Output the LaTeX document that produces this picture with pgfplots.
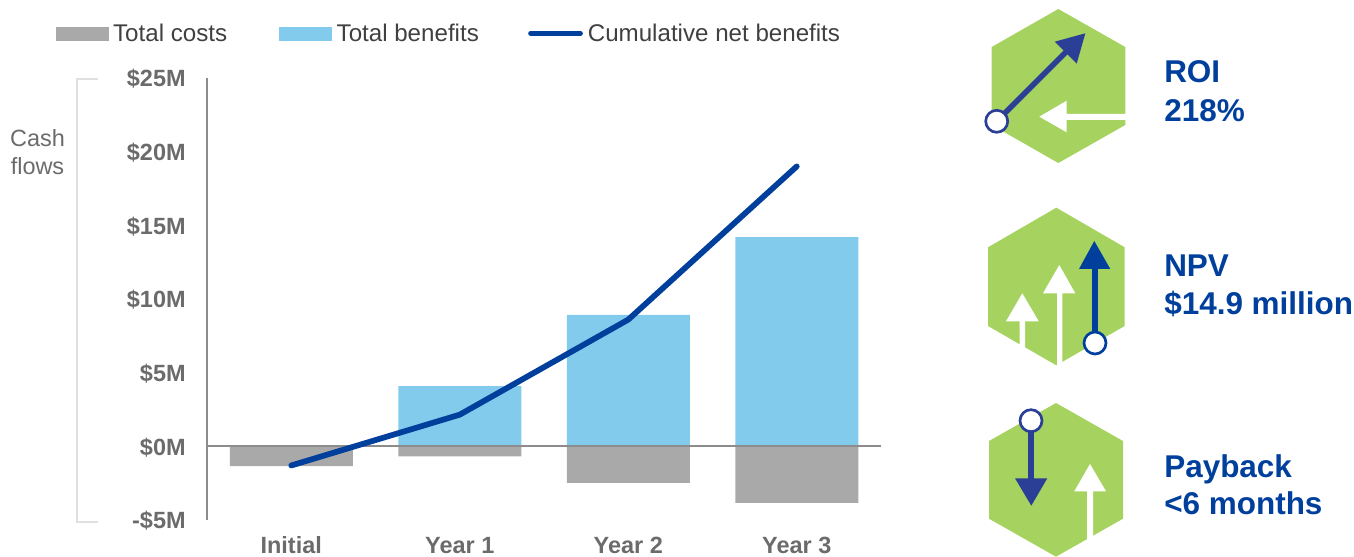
\documentclass[border=0pt]{standalone}
\usepackage{pgfplots}
\pgfplotsset{compat=1.18}
\usepackage{fontspec}
\setmainfont{Liberation Sans}
\definecolor{costs}{HTML}{A9A9A9}
\definecolor{benefits}{HTML}{82CBEC}
\definecolor{netline}{HTML}{003F9C}
\definecolor{hexgreen}{HTML}{A6D360}
\definecolor{arrowblue}{HTML}{2B3F97}
\definecolor{ticktext}{HTML}{6B6B6B}
\definecolor{legendtext}{HTML}{404040}
\definecolor{axisgray}{HTML}{8C8C8C}
\definecolor{brack}{HTML}{E0E0E0}
\newcommand{\lab}{\fontsize{17.6}{21}\selectfont}
\newcommand{\leg}{\fontsize{18.1}{21}\selectfont}
\newcommand{\kpi}{\fontsize{23.6}{28}\selectfont\bfseries}
\pgfplotstableread{
x costs benefits net
0 -1.34 0 -1.3
1 -0.69 4.09 2.15
2 -2.48 8.93 8.6
3 -3.84 14.2 19.0
}\cashdata
\begin{document}
\begin{tikzpicture}
\useasboundingbox (0,0) rectangle (1015.5pt,417.75pt);
\begin{axis}[
  at={(155.25pt,27.75pt)}, anchor=south west,
  scale only axis, width=505.5pt, height=331.5pt,
  xmin=-0.5, xmax=3.5, ymin=-5, ymax=25,
  axis y line=left, axis x line=bottom,
  y axis line style={draw=axisgray, line width=1.3pt, -},
  x axis line style={draw=none, -},
  xtick={0,1,2,3},
  xticklabels={Initial,Year 1,Year 2,Year 3},
  xticklabel style={font=\lab\bfseries, text=ticktext, text height=13pt, text depth=0pt, yshift=-8.5pt},
  ytick={-5,0,5,10,15,20,25},
  yticklabels={-\$5M,\$0M,\$5M,\$10M,\$15M,\$20M,\$25M},
  major tick length=0pt,
  yticklabel style={font=\lab\bfseries, text=ticktext, xshift=-12.5pt, yshift=-0.8pt},
  clip=false,
  legend columns=3,
  legend cell align=left,
  legend style={draw=none, fill=none, at={(-116.5pt,365pt)}, anchor=west,
    font=\leg, text=legendtext, nodes={inner xsep=1.5pt, inner ysep=1pt},
    /tikz/column 1/.style={column sep=2pt},
    /tikz/column 2/.style={column sep=37.25pt},
    /tikz/column 3/.style={column sep=2.5pt},
    /tikz/column 4/.style={column sep=35.5pt},
    /tikz/column 5/.style={column sep=2.25pt}},
]
\addplot[ybar, bar width=92.25pt, bar shift=0pt, fill=benefits, draw=none, forget plot] table[x=x,y=benefits] {\cashdata};
\addplot[ybar, bar width=92.25pt, bar shift=0pt, fill=costs, draw=none, forget plot] table[x=x,y=costs] {\cashdata};
\draw[axisgray, line width=1.3pt] (axis cs:-0.5,0) -- (axis cs:3.5,0);
\addplot[line width=4.3pt, netline, line join=round, line cap=round, forget plot] table[x=x,y=net] {\cashdata};
\addlegendimage{legend image code/.code={\fill[costs] (0pt,-4.9pt) rectangle (39pt,4.9pt);}}
\addlegendentry{Total costs}
\addlegendimage{legend image code/.code={\fill[benefits] (0pt,-4.9pt) rectangle (39pt,4.9pt);}}
\addlegendentry{Total benefits}
\addlegendimage{legend image code/.code={\draw[netline, line width=3.4pt, line cap=round] (1.7pt,0pt) -- (39.3pt,0pt);}}
\addlegendentry{Cumulative net benefits}
\end{axis}
\begin{scope}[x=0.75pt, y=-0.75pt, shift={(0pt,417.75pt)}]
\draw[brack, line width=1.5pt] (98,79) -- (77,79) -- (77,522) -- (98,522);
\node[font=\lab, text=ticktext, anchor=center] at (37.5,138) {Cash};
\node[font=\lab, text=ticktext, anchor=center] at (37.5,166) {flows};
% ROI icon
\fill[hexgreen] (1058.3,9) -- (1125.3,47) -- (1125.3,125) -- (1058.3,163) -- (991.7,125) -- (991.7,47) -- cycle;
\fill[white] (1039.3,116.7) -- (1066.7,100.7) -- (1066.7,114) -- (1126,114) -- (1126,120) -- (1066.7,120) -- (1066.7,132.3) -- cycle;
\draw[arrowblue, line width=4.1pt] (996.7,121.3) -- (1068,50);
\fill[arrowblue] (1085.3,33.3) -- (1054.7,41.7) -- (1076.7,63.7) -- cycle;
\draw[arrowblue, line width=2pt, fill=white] (996.7,121.3) circle[radius=11];
% NPV icon
\fill[hexgreen] (1056.3,207.7) -- (1124.7,247.3) -- (1124.7,326) -- (1056.3,365.3) -- (988,326) -- (988,247.3) -- cycle;
\fill[white] (1059.3,265) -- (1075.3,293.3) -- (1062.3,293.3) -- (1062.3,366) -- (1057,366) -- (1057,293.3) -- (1043,293.3) -- cycle;
\fill[white] (1022.3,293.3) -- (1038.7,321.3) -- (1025,321.3) -- (1025,348) -- (1019.7,348) -- (1019.7,321.3) -- (1006,321.3) -- cycle;
\draw[netline, line width=4pt] (1095,343) -- (1095,262);
\fill[netline] (1094.3,241) -- (1110.3,269) -- (1079,269) -- cycle;
\draw[netline, line width=2pt, fill=white] (1095,343) circle[radius=11];
% Payback icon
\fill[hexgreen] (1056,403) -- (1123,441) -- (1123,518.7) -- (1056,556.7) -- (989,518.7) -- (989,441) -- cycle;
\fill[white] (1090,464) -- (1106,491.3) -- (1093,491.3) -- (1093,537) -- (1087,541) -- (1087,491.3) -- (1074.3,491.3) -- cycle;
\draw[arrowblue, line width=4.4pt] (1031,420.7) -- (1031,485);
\fill[arrowblue] (1031.3,505.7) -- (1047.3,478.3) -- (1015,478.3) -- cycle;
\draw[arrowblue, line width=2pt, fill=white] (1031,420.7) circle[radius=11];
% KPI text
\node[font=\kpi, text=netline, anchor=base west, inner sep=0pt] at (1164,83) {ROI};
\node[font=\kpi, text=netline, anchor=base west, inner sep=0pt] at (1164,121.5) {218\%};
\node[font=\kpi, text=netline, anchor=base west, inner sep=0pt] at (1164,277) {NPV};
\node[font=\kpi, text=netline, anchor=base west, inner sep=0pt] at (1164,315) {\$14.9 million};
\node[font=\kpi, text=netline, anchor=base west, inner sep=0pt] at (1164,478) {Payback};
\node[font=\kpi, text=netline, anchor=base west, inner sep=0pt] at (1164,515) {<6 months};
\end{scope}
\end{tikzpicture}
\end{document}
